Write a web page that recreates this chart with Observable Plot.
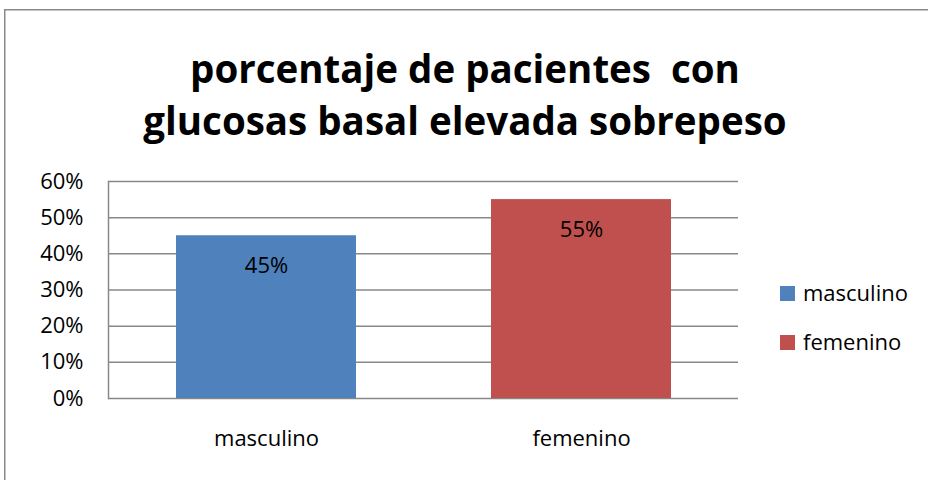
<!DOCTYPE html>
<html>
<head>
<meta charset="utf-8">
<script src="https://cdn.jsdelivr.net/npm/d3@7"></script>
<script src="https://cdn.jsdelivr.net/npm/@observablehq/plot@0.6"></script>
<style>
  html, body { margin: 0; padding: 0; background: #fff; overflow: hidden; }
  body { width: 933px; height: 480px; position: relative; font-family: "Open Sans", Carlito, Calibri, sans-serif; }
  #frame { position: absolute; left: 0; top: 0; }
  #title { position: absolute; left: 0; width: 930px; top: 42px; text-align: center; font-weight: bold; font-size: 38.5px; line-height: 52px; color: #000; }
  #chart { position: absolute; left: 0; top: 170px; }
  .leg { position: absolute; left: 780px; font-size: 22px; color: #000; white-space: nowrap; }
  .leg .sw { position: absolute; left: 0; width: 15px; height: 15px; }
  .leg span.t { position: absolute; left: 23px; top: -9px; line-height: 30px; }
</style>
</head>
<body>
<svg id="frame" width="933" height="480"><path d="M4.75,480V9.75H928" fill="none" stroke="#8a8a8a" stroke-width="1.5"/></svg>
<div id="title">porcentaje de pacientes&nbsp; con<br>glucosas basal elevada sobrepeso</div>
<div id="chart"></div>
<div id="legend"></div>
<script>
const categories = ["masculino", "femenino"];
const values = [0.45, 0.55];
const colors = ["#4F81BD", "#C0504D"];
const yTicks = [0, 0.1, 0.2, 0.3, 0.4, 0.5, 0.6];

const data = categories.map((c, i) => ({ sexo: c, valor: values[i] }));
const pct = d3.format(".0%");
const fontFamily = "'Open Sans', Carlito, Calibri, sans-serif";

const chart = Plot.plot({
  width: 933,
  height: 300,
  marginTop: 11,
  marginBottom: 72,
  marginLeft: 108,
  marginRight: 195,
  style: { fontFamily, fontSize: "22px", color: "#000", background: "transparent", overflow: "visible" },
  x: { domain: categories, paddingInner: 0.43, paddingOuter: 0.215, label: null, tickSize: 0, tickPadding: 32 },
  y: { domain: [0, 0.6], ticks: yTicks, tickFormat: pct, label: null, tickSize: 0, tickPadding: 25 },
  color: { domain: categories, range: colors },
  marks: [
    Plot.gridY(yTicks, { stroke: "#888", strokeOpacity: 1, strokeWidth: 1.5 }),
    Plot.frame({ anchor: "left", stroke: "#888", strokeWidth: 1.5 }),
    Plot.barY(data, { x: "sexo", y: "valor", fill: "sexo" }),
    Plot.text(data, { x: "sexo", y: "valor", text: d => pct(d.valor), dy: 30, fontSize: 22, fill: "#000" })
  ]
});
document.getElementById("chart").appendChild(chart);

const legend = document.getElementById("legend");
const legendTops = [286, 335];
categories.forEach((c, i) => {
  const item = document.createElement("div");
  item.className = "leg";
  item.style.top = legendTops[i] + "px";
  const sw = document.createElement("div");
  sw.className = "sw";
  sw.style.background = colors[i];
  const t = document.createElement("span");
  t.className = "t";
  t.textContent = c;
  item.appendChild(sw);
  item.appendChild(t);
  legend.appendChild(item);
});
</script>
</body>
</html>
